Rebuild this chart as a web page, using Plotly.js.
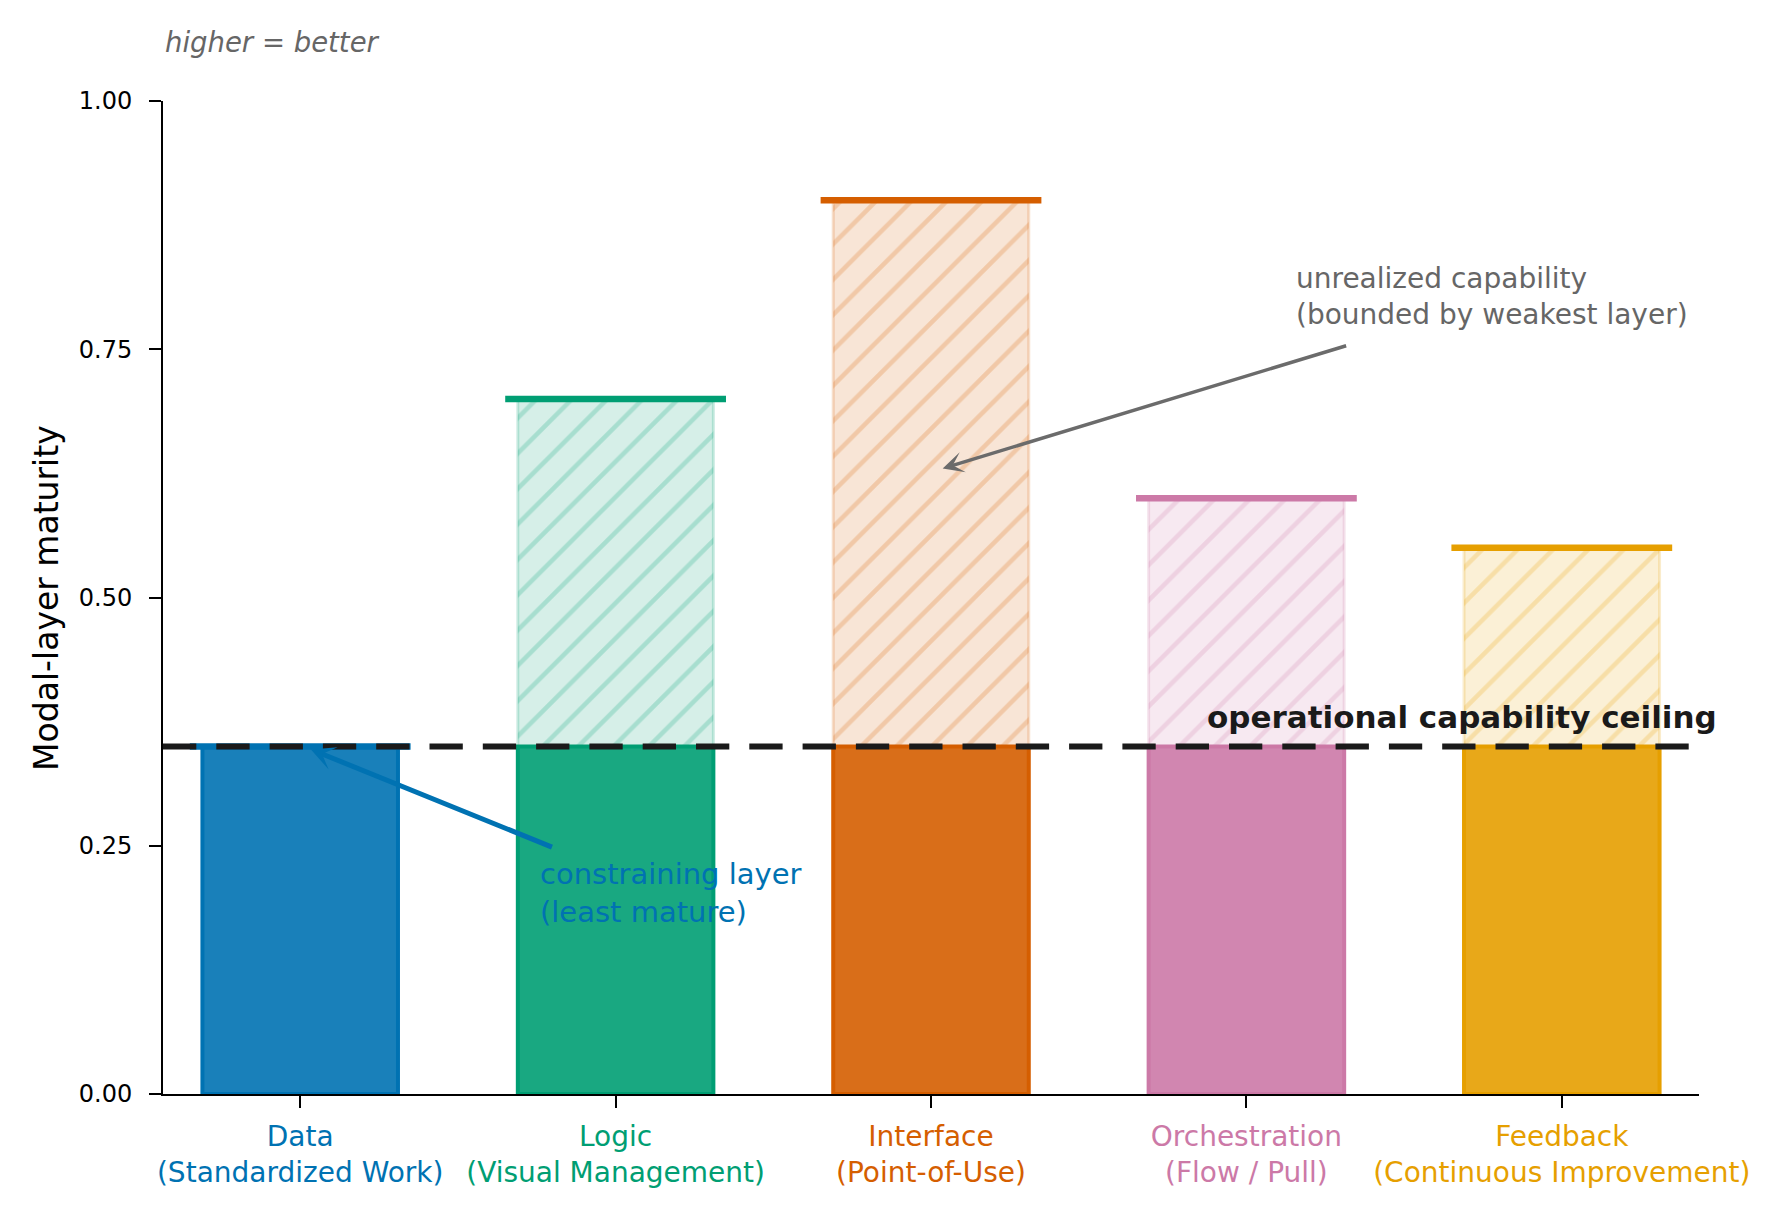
<!DOCTYPE html>
<html>
<head>
<meta charset="utf-8">
<script src="https://cdn.plot.ly/plotly-3.0.1.min.js"></script>
<style>
  html, body { margin: 0; padding: 0; background: #ffffff; }
  #chart { width: 1784px; height: 1221px; }
</style>
</head>
<body>
<div id="chart"></div>
<script>
// ---- data ----
const categories = ['Data', 'Logic', 'Interface', 'Orchestration', 'Feedback'];
const subtitles = ['(Standardized Work)', '(Visual Management)', '(Point-of-Use)', '(Flow / Pull)', '(Continuous Improvement)'];
const maturity = [0.35, 0.70, 0.90, 0.60, 0.55];
const colors = ['#0072B2', '#009E73', '#D55E00', '#CC79A7', '#E69F00'];
const yTicks = [0, 0.25, 0.50, 0.75, 1.00];
const yTickLabels = ['0.00', '0.25', '0.50', '0.75', '1.00'];

// ---- derived ----
const ceiling = Math.min(...maturity);
const weakest = maturity.indexOf(ceiling);
const xPos = categories.map((_, i) => i);
const realized = maturity.map(v => Math.min(v, ceiling));
const unrealized = maturity.map(v => v - ceiling);
const baseArr = maturity.map(() => ceiling);

function rgba(hex, a) {
  const n = parseInt(hex.slice(1), 16);
  return 'rgba(' + ((n >> 16) & 255) + ',' + ((n >> 8) & 255) + ',' + (n & 255) + ',' + a + ')';
}

const FONT = 'DejaVu Sans, Verdana, sans-serif';
const BAR_W = 0.62;
const CAP_HALF = 0.35;

const tickText = categories.map((c, i) =>
  '<span style="color:' + colors[i] + '">' + c + '</span><br>' +
  '<span style="color:' + colors[i] + '">' + subtitles[i] + '</span>');

const traces = [
  {
    type: 'bar',
    x: xPos,
    y: realized,
    width: BAR_W,
    marker: {
      color: colors.map(c => rgba(c, 0.9)),
      line: { color: colors, width: 4 }
    },
    hoverinfo: 'skip',
    showlegend: false
  },
  {
    // faded fill of unrealized capability
    type: 'bar',
    x: xPos,
    y: unrealized,
    base: baseArr,
    width: BAR_W,
    marker: {
      color: colors.map(c => rgba(c, 0.16)),
      line: { color: colors.map(c => rgba(c, 0.2)), width: 3 }
    },
    hoverinfo: 'skip',
    showlegend: false
  },
  {
    // hatch overlay
    type: 'bar',
    x: xPos,
    y: unrealized,
    base: baseArr,
    width: BAR_W,
    marker: {
      color: 'rgba(0,0,0,0)',
      line: { width: 0 },
      pattern: {
        shape: '/',
        fillmode: 'replace',
        bgcolor: 'rgba(0,0,0,0)',
        fgcolor: colors.map(c => rgba(c, 0.22)),
        size: 25,
        solidity: 0.18
      }
    },
    hoverinfo: 'skip',
    showlegend: false
  }
];

const shapes = [];
maturity.forEach((v, i) => {
  shapes.push({
    type: 'line', xref: 'x', yref: 'y',
    x0: xPos[i] - CAP_HALF, x1: xPos[i] + CAP_HALF, y0: v, y1: v,
    line: { color: colors[i], width: 6.5 }
  });
});
shapes.push({
  type: 'line', xref: 'paper', yref: 'y',
  x0: 0, x1: 1, y0: ceiling, y1: ceiling,
  line: { color: '#1a1a1a', width: 6, dash: '33.3px,20px' }
});

const annotations = [
  {
    xref: 'paper', yref: 'paper', x: 0, y: 1.0594,
    xanchor: 'left', yanchor: 'middle', showarrow: false,
    text: 'higher = better',
    font: { family: FONT, size: 27.5, color: '#666666', style: 'italic' }
  },
  {
    xref: 'paper', yref: 'paper', x: -0.0759, y: 0.5,
    xanchor: 'center', yanchor: 'middle', showarrow: false, textangle: -90,
    text: 'Modal-layer maturity',
    font: { family: FONT, size: 33, color: '#000000' }
  },
  {
    xref: 'paper', yref: 'y', x: 1.0128, y: ceiling + 0.03,
    xanchor: 'right', yanchor: 'middle', showarrow: false,
    text: '<b>operational capability ceiling</b>',
    font: { family: FONT, size: 31, color: '#1a1a1a' }
  },
  {
    xref: 'x', yref: 'y', x: 3.151, y: 0.803,
    xanchor: 'left', yanchor: 'middle', align: 'left', showarrow: false,
    text: 'unrealized capability<br>(bounded by weakest layer)',
    font: { family: FONT, size: 28, color: '#666666' }
  },
  {
    xref: 'x', yref: 'y', x: 2.037, y: 0.630,
    axref: 'x', ayref: 'y', ax: 3.321, ay: 0.754,
    text: '', showarrow: true, arrowhead: 3, arrowsize: 1, arrowwidth: 3.5,
    arrowcolor: '#6b6b6b', standoff: 0, startstandoff: 0
  },
  {
    xref: 'x', yref: 'y', x: 0.754, y: 0.2024,
    xanchor: 'left', yanchor: 'middle', align: 'left', showarrow: false,
    text: 'constraining layer<br>(least mature)',
    font: { family: FONT, size: 29, color: colors[weakest] }
  },
  {
    xref: 'x', yref: 'y', x: 0.034, y: 0.347,
    axref: 'x', ayref: 'y', ax: 0.803, ay: 0.248,
    text: '', showarrow: true, arrowhead: 3, arrowsize: 0.8, arrowwidth: 5,
    arrowcolor: colors[weakest], standoff: 0, startstandoff: 0
  }
];

const layout = {
  width: 1784,
  height: 1221,
  margin: { l: 163, r: 85, t: 101, b: 127, pad: 0 },
  paper_bgcolor: '#ffffff',
  plot_bgcolor: '#ffffff',
  barmode: 'overlay',
  font: { family: FONT, color: '#000000' },
  xaxis: {
    range: [-0.435, 4.435],
    tickmode: 'array',
    tickvals: xPos,
    ticktext: tickText,
    tickfont: { family: FONT, size: 28 },
    ticks: 'outside', ticklen: 12, tickwidth: 2, tickcolor: '#000000',
    showline: true, linecolor: '#000000', linewidth: 2,
    showgrid: false, zeroline: false, fixedrange: true,
    ticklabelstandoff: 4
  },
  yaxis: {
    range: [0, 1],
    tickmode: 'array',
    tickvals: yTicks,
    ticktext: yTickLabels,
    tickfont: { family: FONT, size: 24 },
    ticks: 'outside', ticklen: 12, tickwidth: 2, tickcolor: '#000000',
    showline: true, linecolor: '#000000', linewidth: 2,
    showgrid: false, zeroline: false, fixedrange: true,
    ticklabelstandoff: 12
  },
  shapes: shapes,
  annotations: annotations
};

Plotly.newPlot('chart', traces, layout, { staticPlot: true, displayModeBar: false });
</script>
</body>
</html>
